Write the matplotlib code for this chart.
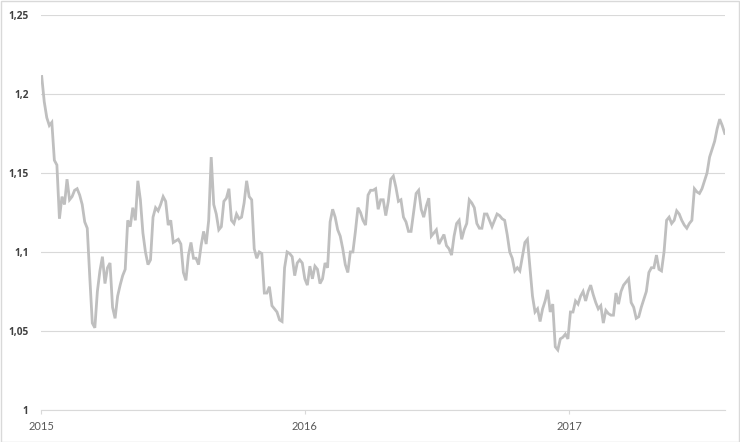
import matplotlib
matplotlib.use("Agg")
import matplotlib.pyplot as plt
from matplotlib.patches import Rectangle
import pandas as pd

# twice-weekly EUR/USD style values
start = "2015-01-02"
rate = [
    1.211, 1.195, 1.185, 1.180, 1.182, 1.158, 1.155, 1.121, 1.135, 1.130,
    1.146, 1.133, 1.135, 1.139, 1.140, 1.136, 1.130, 1.119, 1.115, 1.084,
    1.055, 1.052, 1.075, 1.088, 1.097, 1.080, 1.090, 1.093, 1.065, 1.058,
    1.072, 1.079, 1.085, 1.089, 1.120, 1.116, 1.128, 1.120, 1.145, 1.133,
    1.112, 1.100, 1.092, 1.095, 1.122, 1.128, 1.126, 1.130, 1.135, 1.132,
    1.117, 1.120, 1.106, 1.107, 1.108, 1.105, 1.087, 1.082, 1.098, 1.106,
    1.096, 1.096, 1.092, 1.104, 1.113, 1.105, 1.120, 1.160, 1.130, 1.124,
    1.114, 1.116, 1.132, 1.134, 1.140, 1.120, 1.118, 1.124, 1.121, 1.122,
    1.131, 1.145, 1.135, 1.133, 1.102, 1.096, 1.100, 1.099, 1.074, 1.074,
    1.078, 1.066, 1.064, 1.062, 1.057, 1.056, 1.090, 1.100, 1.099, 1.097,
    1.085, 1.093, 1.095, 1.093, 1.083, 1.079, 1.091, 1.083, 1.091, 1.089,
    1.080, 1.083, 1.093, 1.090, 1.119, 1.127, 1.122, 1.114, 1.110, 1.102,
    1.092, 1.087, 1.100, 1.100, 1.113, 1.128, 1.125, 1.120, 1.117, 1.136,
    1.139, 1.139, 1.140, 1.127, 1.133, 1.133, 1.123, 1.132, 1.146, 1.148,
    1.141, 1.132, 1.133, 1.122, 1.119, 1.113, 1.113, 1.125, 1.137, 1.139,
    1.127, 1.122, 1.129, 1.134, 1.110, 1.112, 1.114, 1.105, 1.108, 1.111,
    1.104, 1.102, 1.098, 1.110, 1.118, 1.120, 1.108, 1.114, 1.118, 1.133,
    1.131, 1.128, 1.118, 1.115, 1.115, 1.124, 1.124, 1.120, 1.116, 1.120,
    1.124, 1.123, 1.121, 1.120, 1.111, 1.100, 1.096, 1.088, 1.090, 1.088,
    1.097, 1.106, 1.108, 1.090, 1.072, 1.062, 1.064, 1.056, 1.064, 1.069,
    1.076, 1.062, 1.067, 1.040, 1.038, 1.045, 1.046, 1.048, 1.045, 1.062,
    1.062, 1.069, 1.067, 1.072, 1.075, 1.069, 1.075, 1.079, 1.073, 1.068,
    1.064, 1.066, 1.055, 1.063, 1.061, 1.060, 1.060, 1.074, 1.067, 1.075,
    1.079, 1.081, 1.083, 1.068, 1.065, 1.058, 1.059, 1.065, 1.070, 1.075,
    1.087, 1.090, 1.090, 1.098, 1.089, 1.088, 1.100, 1.120, 1.122, 1.118,
    1.120, 1.126, 1.124, 1.120, 1.117, 1.115, 1.118, 1.120, 1.140, 1.138,
    1.137, 1.140, 1.145, 1.150, 1.160, 1.165, 1.170, 1.178, 1.184, 1.180,
    1.175,
]
dates = pd.date_range(start, periods=len(rate), freq="84h")

year_ticks = ["2015-01-01", "2016-01-01", "2017-01-01"]
year_labels = ["2015", "2016", "2017"]
y_ticks = [1.0, 1.05, 1.1, 1.15, 1.2, 1.25]
y_labels = [f"{v:g}".replace(".", ",") for v in y_ticks]

plt.rcParams["font.family"] = ["Lato", "DejaVu Sans"]

fig = plt.figure(figsize=(7.4, 4.42), dpi=100)
ax = fig.add_axes([0.0554, 0.0724, 0.924, 0.894])

ax.plot(dates, rate, color="#bfbfbf", lw=2.0, solid_joinstyle="miter")

ax.set_ylim(1.0, 1.25)
ax.set_xlim(dates[0], dates[-1])
ax.set_yticks(y_ticks, labels=y_labels, fontweight="bold",
              family=["Open Sans", "DejaVu Sans"])
ax.set_xticks(pd.to_datetime(year_ticks), labels=year_labels)

ax.grid(axis="y", color="#d9d9d9", lw=0.8)
ax.set_axisbelow(True)
for s in ["top", "right", "left"]:
    ax.spines[s].set_visible(False)
ax.spines["bottom"].set_color("#d9d9d9")
ax.spines["bottom"].set_linewidth(0.8)

ax.tick_params(axis="y", length=0, pad=9, labelsize=7.3, labelcolor="#404040")
ax.tick_params(axis="x", length=3, width=0.8, color="#d9d9d9", pad=5,
               labelsize=8, labelcolor="#595959")

fig.patches.append(Rectangle((0.001, 0.001), 0.998, 0.997, transform=fig.transFigure,
                             fill=False, edgecolor="#d9d9d9", lw=1))

fig.savefig("out.png", dpi=100)
